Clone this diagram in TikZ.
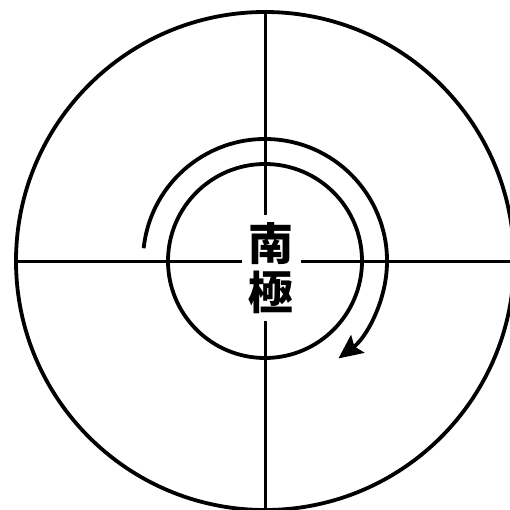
\documentclass[tikz,border=0pt]{standalone}
\usepackage{fontspec}
\newfontfamily\cjk{Noto Sans CJK TC Black}
\usetikzlibrary{positioning, arrows.meta}

\begin{document}
\begin{tikzpicture}[
        x=1pt, y=-1pt,
        ring/.style={line width=3.8pt, black},
        axis/.style={line width=3pt, black},
        turn/.style={line width=3.8pt, black, -{Stealth[length=24pt, width=22pt, inset=4pt]}},
        polebox/.style={fill=white, inner sep=0pt, minimum width=59pt, minimum height=105pt, align=center, font=\cjk\fontsize{45}{49}\selectfont},
    ]
        \useasboundingbox (0,0) rectangle (509,510);

        % Centre
        \coordinate (o) at (265,261);

        % Outer and inner circles
        \draw[ring] (o) circle[radius=249];
        \draw[ring] (o) circle[radius=97];

        % Cross
        \draw[axis] (o) ++(-249,0) -- ++(498,0);
        \draw[axis] (o) ++(0,-250) -- ++(0,500);

        % Rotation (angles negated, y runs down)
        \draw[turn] (o) ++(-174:122) arc[start angle=-174, end angle=53, radius=122];

        % Label
        \node[polebox] (pole) at (271,268) {南\\極};
    \end{tikzpicture}
\end{document}
